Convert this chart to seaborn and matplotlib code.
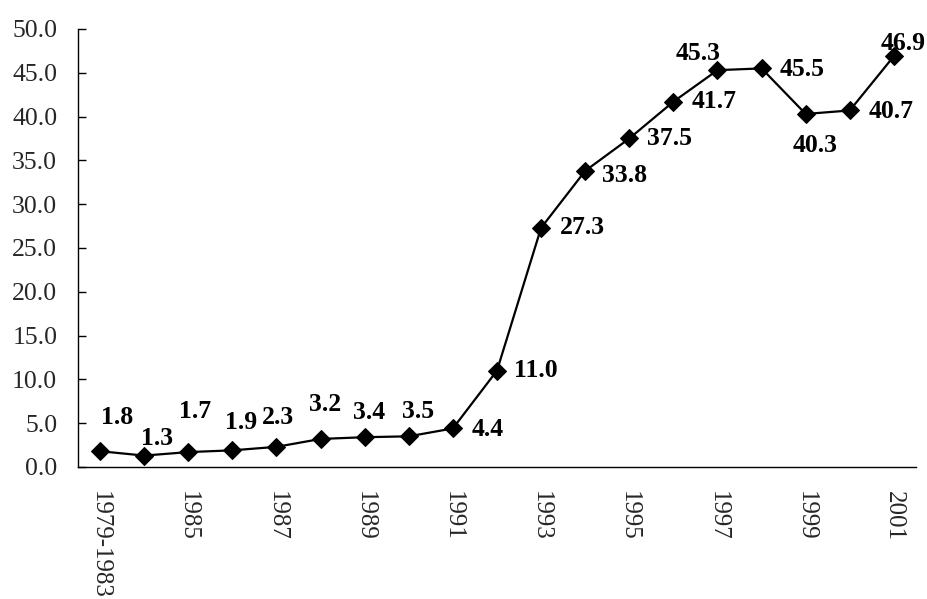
import matplotlib
matplotlib.use("Agg")
import matplotlib.pyplot as plt
import seaborn as sns
import numpy as np
import pandas as pd

categories = ["1979-1983", "1984", "1985", "1986", "1987", "1988", "1989",
              "1990", "1991", "1992", "1993", "1994", "1995", "1996", "1997",
              "1998", "1999", "2000", "2001"]
values = [1.8, 1.3, 1.7, 1.9, 2.3, 3.2, 3.4, 3.5, 4.4, 11.0, 27.3, 33.8,
          37.5, 41.7, 45.3, 45.5, 40.3, 40.7, 46.9]
# label offsets in points (dx, dy) relative to each marker
label_offsets = [(12, 24), (9, 12), (5, 29), (6, 20), (1, 21), (3, 25),
                 (3, 18), (7, 18), (25, -1), (28, 0), (30, 0), (28, -3),
                 (29, 0), (29, 0), (-14, 12), (29, -1), (7, -23), (30, -1),
                 (7, 9)]

sns.set_theme(style="white")
plt.rcParams["font.family"] = ["Liberation Serif", "DejaVu Serif"]

df = pd.DataFrame({"pos": np.arange(len(categories)), "value": values})

fig = plt.figure(figsize=(9.28, 5.99), dpi=100)
ax = fig.add_axes([0.0841, 0.2204, 0.9029, 0.7312])

sns.lineplot(data=df, x="pos", y="value", ax=ax, color="black", linewidth=1.6,
             marker="D", markersize=9, markeredgecolor="black",
             markerfacecolor="black", sort=False)

for i, (v, (dx, dy)) in enumerate(zip(values, label_offsets)):
    ax.annotate(f"{v:.1f}", (i, v), xytext=(dx, dy), textcoords="offset points",
                ha="center", va="center", fontsize=18.5, fontweight="bold",
                color="black")

ax.set_xlim(-0.5, len(categories) - 0.5)
ax.set_ylim(0, 50)
ax.set_yticks(np.arange(0, 50.1, 5))
ax.set_yticklabels([f"{t:.1f}" for t in np.arange(0, 50.1, 5)], fontsize=18.5)

label_pos = list(range(0, len(categories), 2))
ax.set_xticks(label_pos)
ax.set_xticklabels([categories[i] for i in label_pos], rotation=-90,
                   fontsize=18, va="top", ha="center")
ax.set_xticks(np.arange(-0.5, len(categories), 1), minor=True)
ax.tick_params(axis="x", which="major", length=0, pad=17)
ax.tick_params(axis="x", which="minor", direction="in", length=6, width=1,
               color="black")
ax.tick_params(axis="y", which="major", direction="in", length=6, width=1,
               color="black", pad=15, left=True)

ax.set_xlabel("")
ax.set_ylabel("")
for side in ["top", "right"]:
    ax.spines[side].set_visible(False)
for side in ["left", "bottom"]:
    ax.spines[side].set_color("black")
    ax.spines[side].set_linewidth(1)
ax.grid(False)

fig.savefig("out.png", dpi=100, facecolor="white")
